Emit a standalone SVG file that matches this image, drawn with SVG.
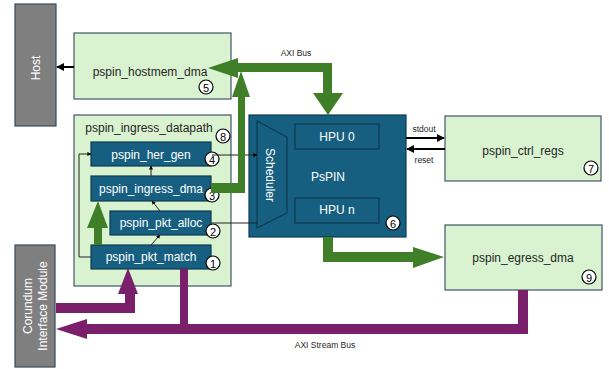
<svg xmlns="http://www.w3.org/2000/svg" width="609" height="369" viewBox="0 0 609 369">
<defs>
<style>
text{font-family:"Liberation Sans",Arial,sans-serif;}
.lg{fill:#d9f2d0;stroke:#44546a;stroke-width:1.2;}
.db{fill:#175f80;stroke:#0c3a50;stroke-width:1.2;}
.gr{fill:#7f7f7f;stroke:#3a4a5a;stroke-width:1.2;}
.t{font-size:12px;fill:#262626;text-anchor:middle;dominant-baseline:central;}
.w{font-size:12px;fill:#fff;text-anchor:middle;dominant-baseline:central;}
.num circle{fill:#fff;stroke:#000;stroke-width:1.2;}
.num text{font-size:11px;fill:#000;text-anchor:middle;dominant-baseline:central;}
.lbl{font-size:8.5px;fill:#262626;text-anchor:middle;dominant-baseline:central;}
.ln{fill:none;stroke:#222;stroke-width:1;}
.thick{fill:none;stroke:#000;stroke-width:2;}
.green{fill:#3e7f27;}
.purple{fill:#7a1f6a;}
</style>
<marker id="ah" viewBox="0 0 10 10" refX="9" refY="5" markerWidth="4" markerHeight="4" orient="auto-start-reverse"><path d="M0,0L10,5L0,10z" fill="#000"/></marker>
</defs>

<g id="host">
<rect class="gr" x="15" y="4" width="41" height="122"/>
<text class="w" transform="translate(36,68) rotate(-90)">Host</text>
</g>

<g id="corundum">
<rect class="gr" x="15" y="245" width="40" height="122"/>
<text class="w" transform="translate(28,306) rotate(-90)">Corundum</text>
<text class="w" transform="translate(43,306) rotate(-90)">Interface Module</text>
</g>

<g id="pspin_hostmem_dma">
<rect class="lg" x="74" y="33" width="157" height="66"/>
<text class="t" x="150" y="72">pspin_hostmem_dma</text>
<g class="num"><circle cx="206" cy="87" r="7"/><text x="206" y="87.5">5</text></g>
</g>

<g id="pspin_ingress_datapath">
<rect class="lg" x="74" y="115" width="157" height="171"/>
<text class="t" x="149" y="128">pspin_ingress_datapath</text>
<g class="num"><circle cx="223" cy="136" r="7"/><text x="223" y="136.5">8</text></g>
</g>

<g id="pspin_her_gen">
<rect class="db" x="91" y="142" width="120" height="24"/>
<text class="w" x="151" y="155">pspin_her_gen</text>
<g class="num"><circle cx="212" cy="159" r="7"/><text x="212" y="159.5">4</text></g>
</g>

<g id="pspin_ingress_dma">
<rect class="db" x="91" y="176" width="120" height="25"/>
<text class="w" x="151" y="189">pspin_ingress_dma</text>
<g class="num"><circle cx="212" cy="195" r="7"/><text x="212" y="195.5">3</text></g>
</g>

<g id="pspin_pkt_alloc">
<rect class="db" x="110" y="211" width="101" height="24"/>
<text class="w" x="161" y="223">pspin_pkt_alloc</text>
<g class="num"><circle cx="213" cy="231" r="7"/><text x="213" y="231.5">2</text></g>
</g>

<g id="pspin_pkt_match">
<rect class="db" x="91" y="245" width="120" height="24"/>
<text class="w" x="151" y="257">pspin_pkt_match</text>
<g class="num"><circle cx="213" cy="263" r="7"/><text x="213" y="263.5">1</text></g>
</g>

<g id="pspin">
<rect class="db" x="249" y="115" width="157" height="122"/>
<path class="db" d="M257,121L287,137L287,213L257,228Z"/>
<text class="w" transform="translate(270,175) rotate(90)">Scheduler</text>
<rect class="db" x="295" y="124" width="84" height="25"/>
<text class="w" x="337" y="137">HPU 0</text>
<rect class="db" x="295" y="198" width="84" height="25"/>
<text class="w" x="337" y="210">HPU n</text>
<text class="w" x="328" y="177">PsPIN</text>
<g class="num"><circle cx="393" cy="223" r="7"/><text x="393" y="223.5">6</text></g>
</g>

<g id="pspin_ctrl_regs">
<rect class="lg" x="445" y="116" width="156" height="65"/>
<text class="t" x="523" y="151">pspin_ctrl_regs</text>
<g class="num"><circle cx="591" cy="168" r="7"/><text x="591" y="168.5">7</text></g>
</g>

<g id="pspin_egress_dma">
<rect class="lg" x="445" y="225" width="157" height="65"/>
<text class="t" x="523" y="258">pspin_egress_dma</text>
<g class="num"><circle cx="589" cy="277" r="7"/><text x="589" y="277.5">9</text></g>
</g>

<g id="connectors">
<line class="thick" x1="74" y1="67" x2="57" y2="67" marker-end="url(#ah)"/>
<line class="ln" x1="212" y1="155" x2="257" y2="155" marker-end="url(#ah)"/>
<line class="ln" x1="211" y1="223" x2="257" y2="223"/>
<line class="ln" x1="151" y1="176" x2="151" y2="166" marker-end="url(#ah)"/>
<line class="ln" x1="160" y1="211" x2="152" y2="201" marker-end="url(#ah)"/>
<line class="ln" x1="151" y1="245" x2="160" y2="235" marker-end="url(#ah)"/>
<polyline class="ln" points="91,257 79,257 79,154 91,154" marker-end="url(#ah)"/>
<line class="thick" x1="406" y1="138" x2="444" y2="138" marker-end="url(#ah)"/>
<line class="thick" x1="445" y1="149" x2="407" y2="149" marker-end="url(#ah)"/>
<text class="lbl" x="424" y="129">stdout</text>
<text class="lbl" x="424" y="160">reset</text>
<path class="green" d="M211,183H238V97H232L241,71L250,97H245V193H211Z"/>
<path class="green" d="M238,63H332V93H343L328,115L313,93H323V72H238V78L208,68L238,58Z"/>
<path class="green" d="M102,245H94V228H87L98,201L108,228H102Z"/>
<path class="green" d="M323,237H333V252H413V247L444,257L413,268V262H323Z"/>
<text class="lbl" x="296" y="53">AXI Bus</text>
<path class="purple" d="M518,290H528V334H87V339L56,329L87,319V324H518Z"/>
<rect class="purple" x="180" y="269" width="8" height="60"/>
<path class="purple" d="M56,303H125V294H118L128,268L138,294H135V313H56Z"/>
<text class="lbl" x="325" y="345">AXI Stream Bus</text>
</g>
</svg>
